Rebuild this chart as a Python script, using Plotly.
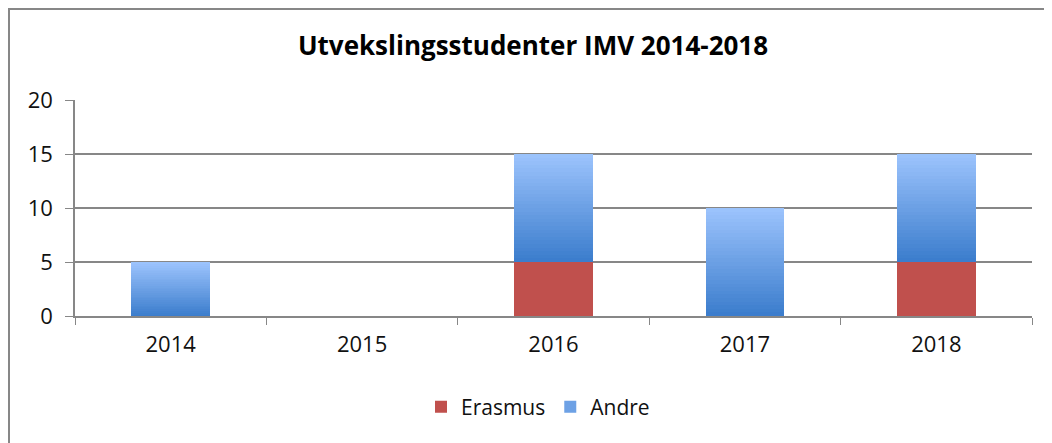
import plotly.graph_objects as go

years = ["2014", "2015", "2016", "2017", "2018"]
erasmus = [0, 0, 5, 0, 5]
andre = [5, 0, 10, 10, 10]

title = "Utvekslingsstudenter IMV 2014-2018"
FONT = "'Open Sans', Lato, sans-serif"

# Excel-style vertical gradient for "Andre": darker at the bottom, lighter on top
GRAD_BOTTOM = (58, 124, 204)
GRAD_TOP = (157, 196, 253)
N_SLICES = 30

# the page body has an 8px margin, so the figure is a bit smaller than the window
W, H = 1044, 435
L, R, T, B = 67, 20, 92, 127
PW, PH = W - L - R, H - T - B


def blend(t):
    r, g, b = (int(round(a + (c - a) * t)) for a, c in zip(GRAD_BOTTOM, GRAD_TOP))
    return f"rgb({r},{g},{b})"


fig = go.Figure()
fig.add_trace(go.Bar(
    x=years, y=erasmus, name="Erasmus",
    marker=dict(color="#c0504d", line=dict(width=0)),
    legendgroup="erasmus",
))
for i in range(N_SLICES):
    fig.add_trace(go.Bar(
        x=years, y=[v / N_SLICES for v in andre], name="Andre",
        marker=dict(color=blend((i + 0.5) / N_SLICES), line=dict(width=0)),
        legendgroup="andre", showlegend=(i == N_SLICES // 2),
        hoverinfo="skip" if i else None,
    ))

fig.update_layout(
    barmode="stack",
    bargap=0.59,
    width=W, height=H,
    margin=dict(l=L, r=R, t=T, b=B),
    paper_bgcolor="white", plot_bgcolor="white",
    font=dict(family=FONT, size=22, color="#111"),
    title=dict(text="<b>" + title + "</b>", x=525 / W, xanchor="center",
               y=1 - 38 / H, yanchor="middle", font=dict(size=26, color="#000")),
    legend=dict(orientation="h", x=(530 - L) / PW, xanchor="center",
                y=-(399 - (T + PH)) / PH, yanchor="middle",
                font=dict(size=21), traceorder="normal", entrywidth=0),
    showlegend=True,
)
fig.update_xaxes(
    showline=True, linecolor="#878787", linewidth=1.5,
    ticks="outside", tickson="boundaries", ticklen=7, tickcolor="#878787",
    showgrid=False, ticklabelstandoff=8,
)
fig.update_yaxes(
    range=[0, 20], dtick=5, showline=True, linecolor="#878787", linewidth=1.5,
    ticks="outside", ticklen=8, tickcolor="#878787", ticklabelstandoff=8,
    showgrid=True, gridcolor="#878787", gridwidth=1.5, zeroline=False,
)
# chart area border
fig.add_shape(type="rect", xref="paper", yref="paper",
              x0=(1 - L) / PW, x1=(1039 - L) / PW,
              y0=-1.0, y1=(T + PH - 1) / PH,
              line=dict(color="#878787", width=2), fillcolor="rgba(0,0,0,0)",
              layer="below")

fig.write_html("out.html")
